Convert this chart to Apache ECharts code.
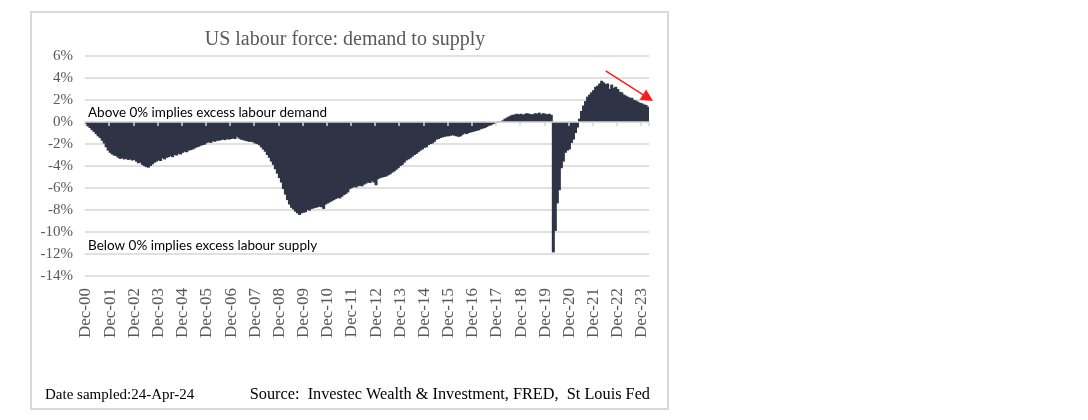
<!DOCTYPE html>
<html><head><meta charset="utf-8">
<script src="https://cdn.jsdelivr.net/npm/echarts@6/dist/echarts.min.js"></script>
<style>html,body{margin:0;padding:0;background:#fff}#c{width:1088px;height:420px}</style>
</head><body><div id="c"></div>
<script>
// Monthly series, Dec-00 .. Mar-24 (% of labour force: demand minus supply)
const firstYear = 2000, firstMonth = 11; // December 2000
const monthNames = ['Jan','Feb','Mar','Apr','May','Jun','Jul','Aug','Sep','Oct','Nov','Dec'];

const valuesDec00toNov05 = [
  -0.2,-0.4,-0.55,-0.75,-0.9,-1.1,-1.3,-1.45,-1.7,-1.95,-2.3,-2.6,
  -2.8,-2.95,-3.05,-3.1,-3.25,-3.35,-3.3,-3.4,-3.35,-3.45,-3.4,-3.5,
  -3.45,-3.6,-3.75,-3.7,-3.9,-4.0,-4.1,-4.15,-4.0,-3.85,-3.7,-3.6,
  -3.5,-3.55,-3.3,-3.4,-3.25,-3.2,-3.1,-3.2,-3.0,-3.05,-2.9,-2.95,
  -2.8,-2.7,-2.75,-2.6,-2.55,-2.5,-2.4,-2.3,-2.25,-2.15,-2.1,-2.05
];
const valuesDec05toNov10 = [
  -1.9,-1.85,-1.9,-1.75,-1.8,-1.7,-1.7,-1.65,-1.6,-1.65,-1.55,-1.6,
  -1.55,-1.5,-1.55,-1.35,-1.5,-1.6,-1.65,-1.7,-1.75,-1.8,-1.8,-1.85,
  -1.95,-2.0,-2.1,-2.3,-2.5,-2.7,-3.0,-3.25,-3.6,-3.9,-4.3,-4.7,
  -5.1,-5.5,-6.1,-6.6,-7.1,-7.5,-7.8,-7.95,-8.15,-8.3,-8.45,-8.3,
  -8.25,-8.2,-8.0,-8.05,-7.9,-7.85,-7.8,-7.75,-7.7,-7.75,-7.9,-7.5
];
const valuesDec10toNov15 = [
  -7.4,-7.3,-7.2,-7.1,-7.0,-6.9,-6.95,-6.8,-6.65,-6.55,-6.4,-6.1,
  -6.0,-5.9,-5.95,-5.85,-5.8,-5.85,-5.7,-5.6,-5.5,-5.55,-5.4,-5.5,
  -5.75,-5.2,-5.1,-5.05,-5.0,-4.95,-4.85,-4.75,-4.6,-4.5,-4.35,-4.2,
  -4.0,-3.9,-3.7,-3.5,-3.4,-3.3,-3.15,-3.0,-2.9,-2.75,-2.6,-2.5,
  -2.35,-2.3,-2.1,-2.0,-1.95,-1.8,-1.6,-1.55,-1.45,-1.4,-1.35,-1.3
];
const valuesDec15toNov20 = [
  -1.3,-1.25,-1.2,-1.25,-1.3,-1.35,-1.3,-1.15,-1.05,-1.1,-1.0,-0.95,
  -0.9,-0.85,-0.8,-0.75,-0.65,-0.6,-0.55,-0.45,-0.35,-0.3,-0.2,-0.15,
  -0.08,0.03,0.08,0.15,0.3,0.4,0.5,0.6,0.65,0.7,0.75,0.7,
  0.75,0.65,0.75,0.8,0.75,0.7,0.7,0.8,0.75,0.85,0.7,0.8,
  0.75,0.7,0.75,0.65,-11.85,-9.9,-7.4,-6.2,-4.2,-3.6,-2.8,-2.6
];
const valuesDec20toMar24 = [
  -2.5,-1.9,-1.6,-1.0,-0.5,0.3,1.0,1.5,1.9,2.3,2.5,2.7,
  2.9,3.2,3.3,3.5,3.75,3.6,3.45,3.5,3.0,3.4,3.1,3.2,
  3.0,2.75,2.7,2.5,2.4,2.3,2.2,2.2,2.0,1.95,1.85,1.75,
  1.7,1.6,1.55,1.4
];
const values = [].concat(valuesDec00toNov05, valuesDec05toNov10, valuesDec10toNov15,
                         valuesDec15toNov20, valuesDec20toMar24);

const categories = values.map((v, i) => {
  const m = firstMonth + i;
  const y = firstYear + Math.floor(m / 12);
  return monthNames[m % 12] + '-' + String(y % 100).padStart(2, '0');
});

const yTicks = { min: -14, max: 6, step: 2 };
const arrowFrom = { cat: 'Jun-22', value: 4.65 };
const arrowTo = { cat: 'Mar-24', value: 2.2 };

const titleText = 'US labour force: demand to supply';
const noteAbove = 'Above 0% implies excess labour demand';
const noteBelow = 'Below 0% implies excess labour supply';
const dateText = 'Date sampled:24-Apr-24';
const sourceText = 'Source:  Investec Wealth & Investment, FRED,  St Louis Fed';

const serif = '"Liberation Serif", "Times New Roman", serif';
const gridColor = '#d6d6d6';
const labelColor = '#595959';
const barColor = '#2e3446';
const everyYear = (i) => i % 12 === 0;

const chart = echarts.init(document.getElementById('c'), null, { renderer: 'canvas' });
chart.setOption({
  animation: false,
  backgroundColor: '#ffffff',
  grid: { left: 85, right: 439, top: 56, bottom: 144, containLabel: false },
  xAxis: [
    {
      type: 'category', data: categories, position: 'bottom',
      axisLine: { show: false, onZero: false },
      axisTick: { show: false },
      splitLine: { show: false },
      axisLabel: {
        interval: everyYear, rotate: 90, margin: 12,
        fontFamily: serif, fontSize: 17, color: labelColor
      }
    },
    {
      type: 'category', data: categories, position: 'bottom', z: 10,
      axisLine: { show: true, onZero: true, lineStyle: { color: gridColor, width: 1.5 } },
      axisTick: { show: true, interval: everyYear, length: 4, lineStyle: { color: gridColor, width: 1.5 } },
      axisLabel: { show: false },
      splitLine: { show: false }
    }
  ],
  yAxis: {
    type: 'value', min: yTicks.min, max: yTicks.max, interval: yTicks.step,
    axisLine: { show: false }, axisTick: { show: false },
    axisLabel: { formatter: '{value}%', fontFamily: serif, fontSize: 15, color: labelColor, margin: 12 },
    splitLine: { lineStyle: { color: gridColor, width: 1.5 } }
  },
  series: [{
    type: 'bar', xAxisIndex: 0, data: values,
    barWidth: 3,
    itemStyle: { color: barColor },
    markLine: {
      silent: true, animation: false,
      symbol: ['none', 'triangle'], symbolSize: 12,
      label: { show: false },
      lineStyle: { color: '#ff1a1a', width: 1.5, type: 'solid' },
      itemStyle: { color: '#ff0000' },
      data: [[
        { coord: [arrowFrom.cat, arrowFrom.value] },
        { coord: [arrowTo.cat, arrowTo.value] }
      ]]
    }
  }],
  graphic: [
    { type: 'rect', silent: true, z: -1,
      shape: { x: 31, y: 12, width: 637, height: 397 },
      style: { fill: 'none', stroke: '#d9d9d9', lineWidth: 2 } },
    { type: 'text', x: 345, y: 40, silent: true,
      style: { text: titleText, fill: labelColor, font: '20px ' + serif,
               textAlign: 'center', align: 'center', textVerticalAlign: 'middle', verticalAlign: 'middle' } },
    { type: 'text', x: 88, y: 113, silent: true, z: 20,
      style: { text: noteAbove, fill: '#000000', font: '13.5px Lato, "Open Sans", sans-serif',
               textAlign: 'left', align: 'left', textVerticalAlign: 'middle', verticalAlign: 'middle' } },
    { type: 'text', x: 88, y: 246, silent: true, z: 20,
      style: { text: noteBelow, fill: '#000000', font: '13.5px Lato, "Open Sans", sans-serif',
               textAlign: 'left', align: 'left', textVerticalAlign: 'middle', verticalAlign: 'middle' } },
    { type: 'text', x: 45, y: 395, silent: true,
      style: { text: dateText, fill: '#000000', font: '15px ' + serif,
               textAlign: 'left', align: 'left', textVerticalAlign: 'middle', verticalAlign: 'middle' } },
    { type: 'text', x: 650, y: 395, silent: true,
      style: { text: sourceText, fill: '#000000', font: '16.3px ' + serif,
               textAlign: 'right', align: 'right', textVerticalAlign: 'middle', verticalAlign: 'middle' } }
  ]
});
</script>
</body></html>
